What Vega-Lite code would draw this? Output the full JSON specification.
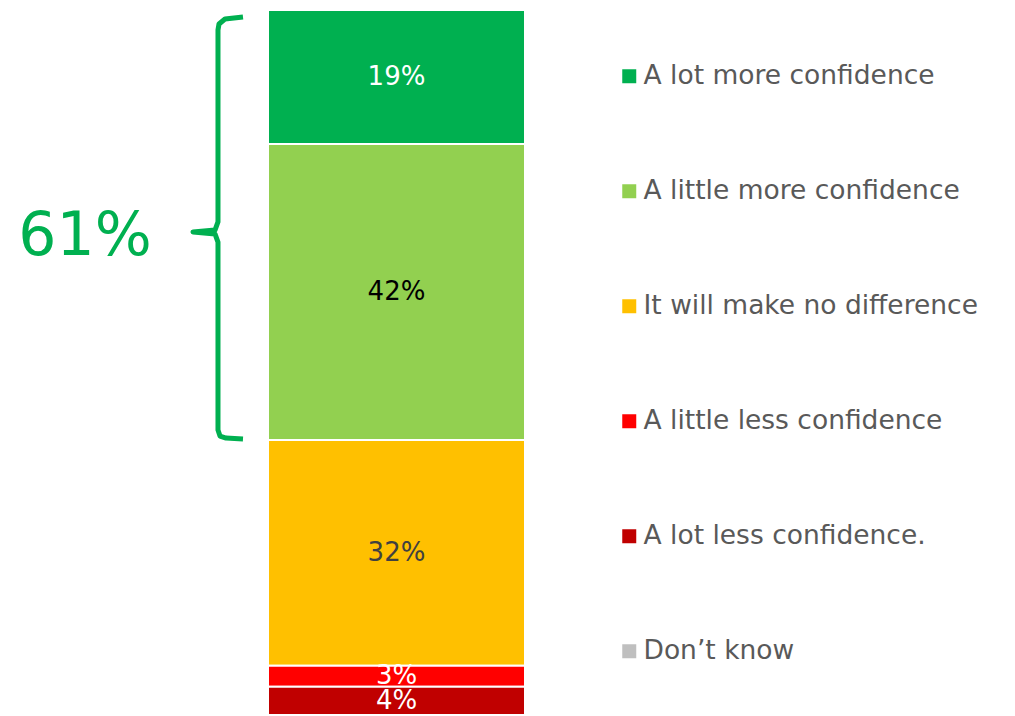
{
  "$schema": "https://vega.github.io/schema/vega-lite/v6.json",
  "width": 1015,
  "height": 705,
  "autosize": {"type": "none"},
  "padding": {"left": 0, "top": 10, "right": 0, "bottom": 1},
  "background": "white",
  "config": {"view": {"stroke": null}, "font": "DejaVu Sans"},
  "datasets": {
    "responses": [
      {"category": "A lot more confidence", "value": 19, "rank": 1},
      {"category": "A little more confidence", "value": 42, "rank": 2},
      {"category": "It will make no difference", "value": 32, "rank": 3},
      {"category": "A little less confidence", "value": 3, "rank": 4},
      {"category": "A lot less confidence.", "value": 4, "rank": 5},
      {"category": "Don’t know", "value": 0, "rank": 6}
    ],
    "brace": [
      {"i": 1, "bx": -0.0973, "by": 0.99},
      {"i": 2, "bx": -0.1673, "by": 1.28},
      {"i": 3, "bx": -0.1907, "by": 1.99},
      {"i": 4, "bx": -0.1946, "by": 2.84},
      {"i": 5, "bx": -0.1946, "by": 30.07},
      {"i": 6, "bx": -0.2062, "by": 31.21},
      {"i": 7, "bx": -0.2918, "by": 31.49},
      {"i": 8, "bx": -0.2062, "by": 31.77},
      {"i": 9, "bx": -0.1946, "by": 32.91},
      {"i": 10, "bx": -0.1946, "by": 59.57},
      {"i": 11, "bx": -0.1868, "by": 60.43},
      {"i": 12, "bx": -0.1634, "by": 60.71},
      {"i": 13, "bx": -0.0973, "by": 60.85}
    ],
    "annotation": [
      {"label": "61%", "ax": -0.712, "ay": 32.2}
    ]
  },
  "layer": [
    {
      "data": {"name": "responses"},
      "transform": [
        {"stack": "value", "groupby": [], "sort": [{"field": "rank", "order": "ascending"}], "as": ["y0", "y1"]}
      ],
      "mark": {"type": "bar", "stroke": "white", "strokeWidth": 2},
      "encoding": {
        "x": {"datum": 0, "type": "quantitative", "scale": {"domain": [-1.0428, 2.9066], "nice": false, "zero": false}, "axis": null},
        "x2": {"datum": 1},
        "y": {"field": "y0", "type": "quantitative", "scale": {"domain": [0, 100], "reverse": true, "nice": false, "zero": false}, "axis": null},
        "y2": {"field": "y1"},
        "color": {
          "field": "category",
          "type": "nominal",
          "sort": null,
          "scale": {
            "domain": ["A lot more confidence", "A little more confidence", "It will make no difference", "A little less confidence", "A lot less confidence.", "Don’t know"],
            "range": ["#00B050", "#92D050", "#FFC000", "#FF0000", "#C00000", "#BFBFBF"]
          },
          "legend": {
            "orient": "none",
            "legendX": 616,
            "legendY": 53,
            "title": null,
            "symbolType": "square",
            "symbolSize": 196,
            "symbolStrokeWidth": 0,
            "labelFontSize": 26.5,
            "labelColor": "#595959",
            "labelFont": "DejaVu Sans",
            "labelOffset": 1,
            "labelLimit": 600,
            "rowPadding": 88,
            "padding": 0
          }
        }
      }
    },
    {
      "data": {"name": "responses"},
      "transform": [
        {"stack": "value", "groupby": [], "sort": [{"field": "rank", "order": "ascending"}], "as": ["y0", "y1"]},
        {"filter": "datum.value > 0"},
        {"calculate": "(datum.y0 + datum.y1) / 2", "as": "mid"},
        {"calculate": "datum.value + '%'", "as": "label"}
      ],
      "mark": {"type": "text", "fontSize": 26, "baseline": "middle", "align": "center"},
      "encoding": {
        "x": {"datum": 0.5, "type": "quantitative"},
        "y": {"field": "mid", "type": "quantitative"},
        "text": {"field": "label"},
        "color": {
          "condition": [
            {"test": "datum.category === 'A little more confidence'", "value": "#000000"},
            {"test": "datum.category === 'It will make no difference'", "value": "#404040"}
          ],
          "value": "#FFFFFF"
        }
      }
    },
    {
      "data": {"name": "brace"},
      "mark": {"type": "line", "color": "#00B050", "strokeWidth": 5, "strokeJoin": "round"},
      "encoding": {
        "x": {"field": "bx", "type": "quantitative"},
        "y": {"field": "by", "type": "quantitative"},
        "order": {"field": "i", "type": "quantitative"}
      }
    },
    {
      "data": {"name": "annotation"},
      "mark": {"type": "text", "fontSize": 60, "color": "#00B050", "baseline": "middle", "align": "center"},
      "encoding": {
        "x": {"field": "ax", "type": "quantitative"},
        "y": {"field": "ay", "type": "quantitative"},
        "text": {"field": "label"}
      }
    }
  ]
}
